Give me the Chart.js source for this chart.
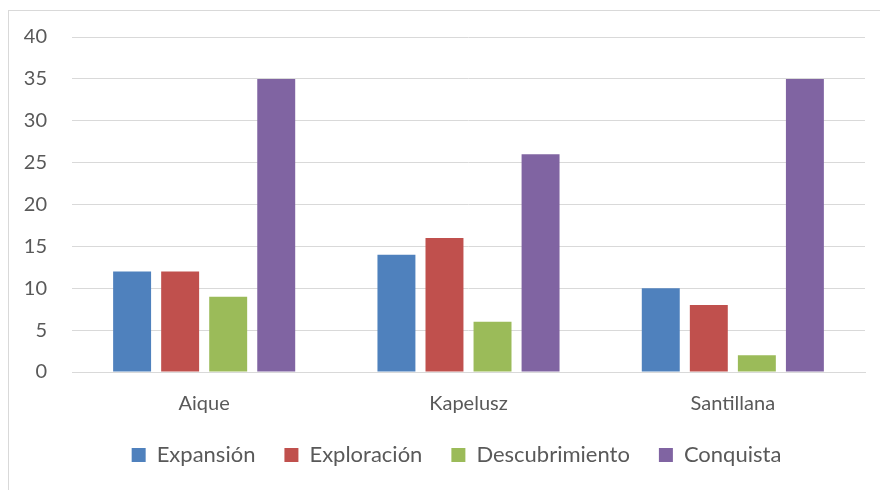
<!DOCTYPE html>
<html>
<head>
<meta charset="utf-8">
<script src="https://cdn.jsdelivr.net/npm/chart.js@4"></script>
<style>
  html, body { margin: 0; padding: 0; background: #fff; overflow: hidden; }
  #wrap { position: relative; width: 880px; height: 490px; }
  #frame { position: absolute; left: 8px; top: 10px; width: 900px; height: 500px; border: 1px solid #d9d9d9; }
  #chartBox { position: absolute; left: 0; top: 0; width: 880px; height: 490px; }
</style>
</head>
<body>
<div id="wrap">
  <div id="frame"></div>
  <div id="chartBox"><canvas id="barChart"></canvas></div>
</div>
<script>
const editoriales = ["Aique", "Kapelusz", "Santillana"];
const expansion = [12, 14, 10];
const exploracion = [12, 16, 8];
const descubrimiento = [9, 6, 2];
const conquista = [35, 26, 35];
const yTicks = [0, 5, 10, 15, 20, 25, 30, 35, 40];

const textColor = "#595959";
const gridColor = "#d9d9d9";
const fontFamily = "Lato, 'Open Sans', sans-serif";

//dataset builder so every series gets the same bar sizing
function makeSeries(label, data, color){
  return {
    label: label,
    data: data,
    backgroundColor: color,
    categoryPercentage: 0.727,
    barPercentage: 0.79
  };
}

//nudge the legend so it sits under the plot like in excel
const legendShift = {
  id: "legendShift",
  afterLayout(chart){
    chart.legend.left += 24;
    chart.legend.right += 24;
    chart.legend.top -= 21;
    chart.legend.bottom -= 21;
  }
};

const ctx = document.getElementById("barChart").getContext("2d");

new Chart(ctx, {
  type: "bar",
  data: {
    labels: editoriales,
    datasets: [
      makeSeries("Expansión", expansion, "#4f81bd"),
      makeSeries("Exploración", exploracion, "#c0504d"),
      makeSeries("Descubrimiento", descubrimiento, "#9bbb59"),
      makeSeries("Conquista", conquista, "#8064a2")
    ]
  },
  plugins: [legendShift],
  options: {
    responsive: true,
    maintainAspectRatio: false,
    animation: false,
    layout: {
      padding: { left: 0, right: 15, top: 37, bottom: -7 }
    },
    plugins: {
      tooltip: { enabled: false },
      legend: {
        position: "bottom",
        labels: {
          color: textColor,
          font: { family: fontFamily, size: 22 },
          boxWidth: 14,
          boxHeight: 14,
          padding: 29
        }
      }
    },
    scales: {
      x: {
        grid: { display: false, drawTicks: false },
        border: { color: gridColor, width: 1 },
        ticks: {
          color: textColor,
          font: { family: fontFamily, size: 20 },
          padding: 20
        }
      },
      y: {
        min: 0,
        max: 40,
        afterFit: scale => { scale.width = 72; },
        afterBuildTicks: scale => { scale.ticks = yTicks.map(v => ({ value: v })); },
        grid: { color: gridColor, lineWidth: 1, drawTicks: false },
        border: { display: false },
        ticks: {
          color: textColor,
          font: { family: fontFamily, size: 20 },
          padding: 25
        }
      }
    }
  }
});
</script>
</body>
</html>
